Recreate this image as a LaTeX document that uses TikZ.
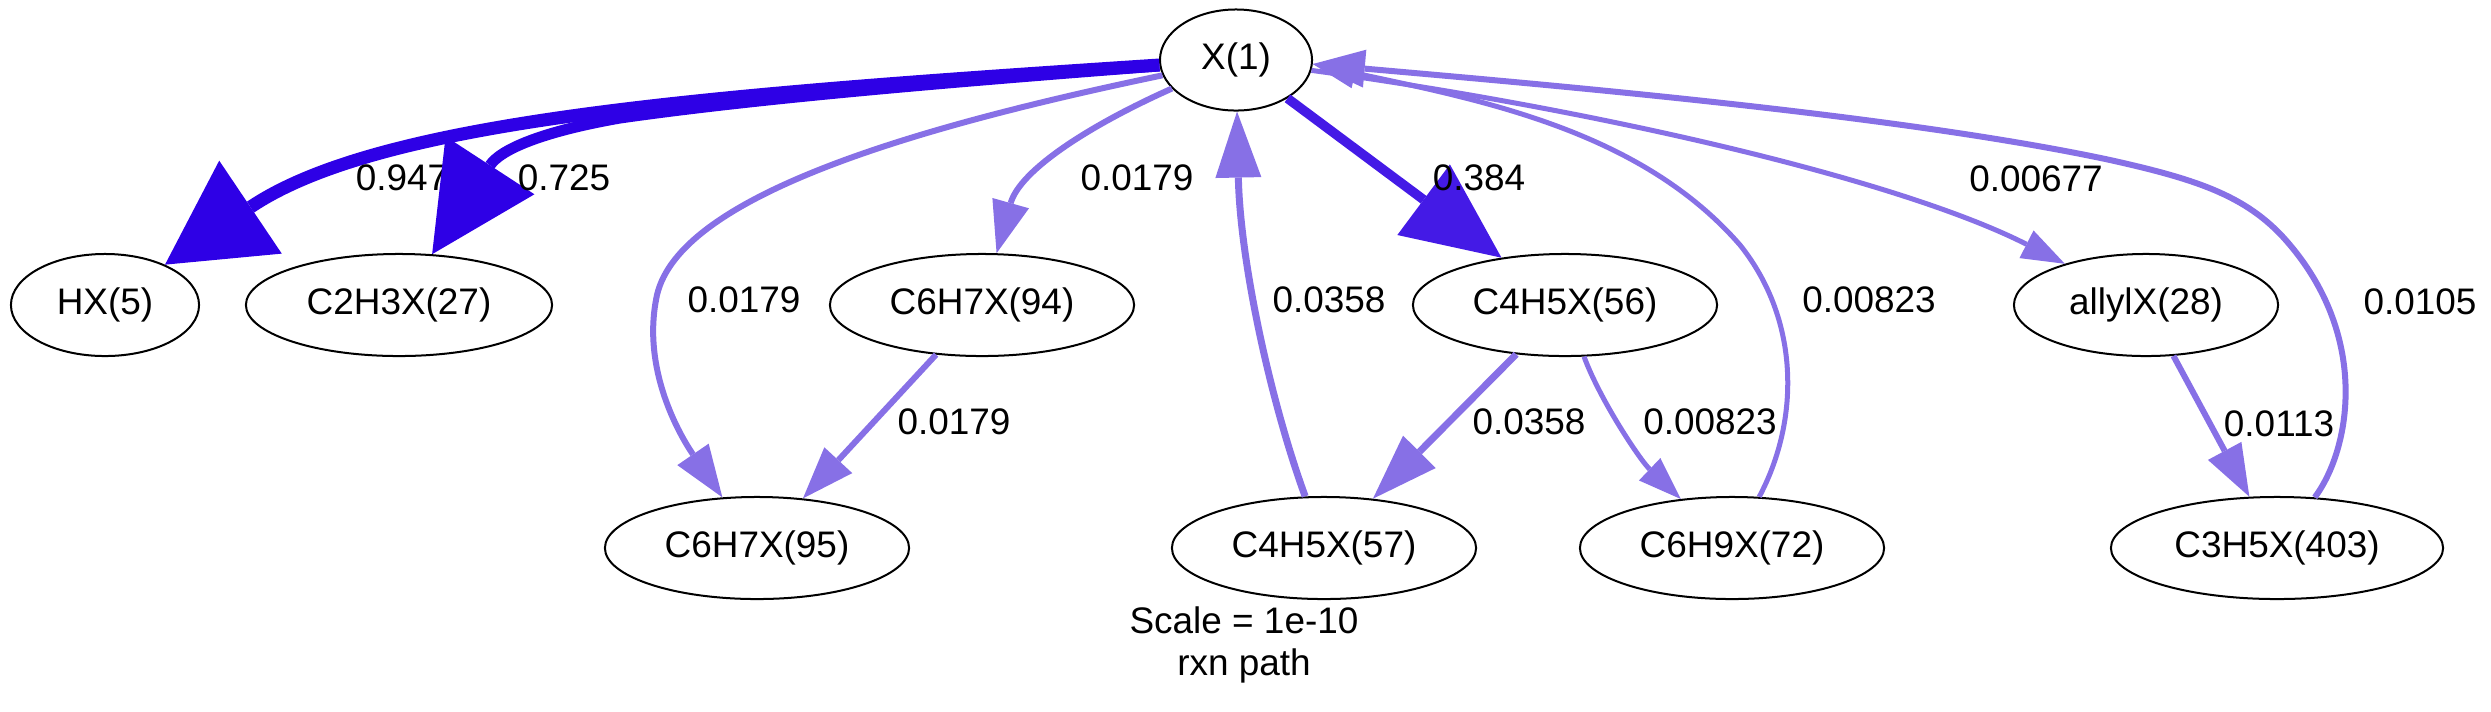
\documentclass[tikz,border=0pt]{standalone}
\usepackage{fontspec}
\setmainfont{Liberation Sans}
\usepackage{xcolor}
\usetikzlibrary{arrows.meta,shapes.geometric}

\definecolor{fluxA}{RGB}{46,0,230}
\definecolor{fluxB}{RGB}{68,26,230}
\definecolor{fluxC}{RGB}{135,112,230}

\begin{document}
\begin{tikzpicture}[x=0.01cm, y=-0.01cm,
  font=\fontsize{10.5}{12}\selectfont,
  species/.style={draw, ellipse, line width=0.02cm, inner sep=0pt, minimum width=3.04cm, minimum height=1.02cm},
  rate/.style={inner sep=0pt},
  heavy/.style={draw=fluxA, line width=0.13cm, -{Triangle[length=1.03cm, width=1.12cm, line width=0pt]}},
  strong/.style={draw=fluxA, line width=0.11cm, -{Triangle[length=1.06cm, width=1.06cm, line width=0pt]}},
  medium/.style={draw=fluxB, line width=0.095cm, -{Triangle[length=0.97cm, width=0.88cm, line width=0pt]}},
  moderate/.style={draw=fluxC, line width=0.07cm, -{Triangle[length=0.66cm, width=0.46cm, line width=0pt]}},
  light/.style={draw=fluxC, line width=0.06cm, -{Triangle[length=0.52cm, width=0.38cm, line width=0pt]}},
  faint/.style={draw=fluxC, line width=0.05cm, -{Triangle[length=0.43cm, width=0.31cm, line width=0pt]}}]
\useasboundingbox (0,0) rectangle (2491,711);
% species
\node[species, minimum width=1.52cm, minimum height=1.01cm] (x1) at (1236,60) {X(1)};
\node[species, minimum width=1.88cm] (hx) at (105,305) {HX(5)};
\node[species, minimum width=3.06cm] (c2h3x) at (399,305) {C2H3X(27)};
\node[species] (c6h7xa) at (982,305) {C6H7X(94)};
\node[species] (c4h5xa) at (1565,305) {C4H5X(56)};
\node[species, minimum width=2.64cm] (allylx) at (2146,305) {allylX(28)};
\node[species] (c6h7xb) at (757,548) {C6H7X(95)};
\node[species] (c4h5xb) at (1324,548) {C4H5X(57)};
\node[species] (c6h9x) at (1732,548) {C6H9X(72)};
\node[species, minimum width=3.32cm] (c3h5x) at (2277,548) {C3H5X(403)};
% big fluxes to the left
\draw[heavy] (x1) .. controls (700,95) and (380,120) .. (hx);
\node[rate] (r1) at (402,178) {0.947};
\draw[strong] (x1) .. controls (950,82) and (760,98) .. (620,118) .. controls (540,132) and (500,150) .. (c2h3x);
\node[rate] (r2) at (564,178) {0.725};
% C6H7X branch
\draw[light] (x1) .. controls (900,130) and (672,200) .. (656,300) .. controls (641,380) and (690,450) .. (c6h7xb);
\node[rate] (r3) at (744,300) {0.0179};
\draw[light] (x1) .. controls (1090,125) and (1020,170) .. (c6h7xa);
\node[rate] (r4) at (1137,178) {0.0179};
\draw[light] (c6h7xa) -- (c6h7xb);
\node[rate] (r5) at (954,422) {0.0179};
% C4H5X branch
\draw[moderate] (c4h5xb) .. controls (1270,400) and (1240,260) .. (x1);
\node[rate] (r6) at (1329,300) {0.0358};
\draw[medium] (x1) -- (c4h5xa);
\node[rate] (r7) at (1479,178) {0.384};
\draw[moderate] (c4h5xa) -- (c4h5xb);
\node[rate] (r8) at (1529,422) {0.0358};
\draw[faint] (c4h5xa) .. controls (1600,400) and (1640,460) .. (c6h9x);
\node[rate] (r9) at (1710,422) {0.00823};
\draw[faint] (c6h9x) .. controls (1800,420) and (1800,320) .. (1740,245) .. controls (1640,130) and (1480,100) .. (x1.-3);
\node[rate] (r10) at (1869,300) {0.00823};
% allyl branch
\draw[faint] (x1) .. controls (1600,110) and (1900,180) .. (allylx);
\node[rate] (r11) at (2036,179) {0.00677};
\draw[light] (allylx) -- (c3h5x);
\node[rate] (r12) at (2279,424) {0.0113};
\draw[light] (c3h5x) .. controls (2350,450) and (2370,340) .. (2290,245) .. controls (2250,197) and (2200,180) .. (2110,160) .. controls (1900,115) and (1550,85) .. (x1.-3);
\node[rate] (r13) at (2420,302) {0.0105};
% caption
\node[rate, align=center] (title) at (1244,645) {Scale = 1e-10\\rxn path};
\end{tikzpicture}
\end{document}
